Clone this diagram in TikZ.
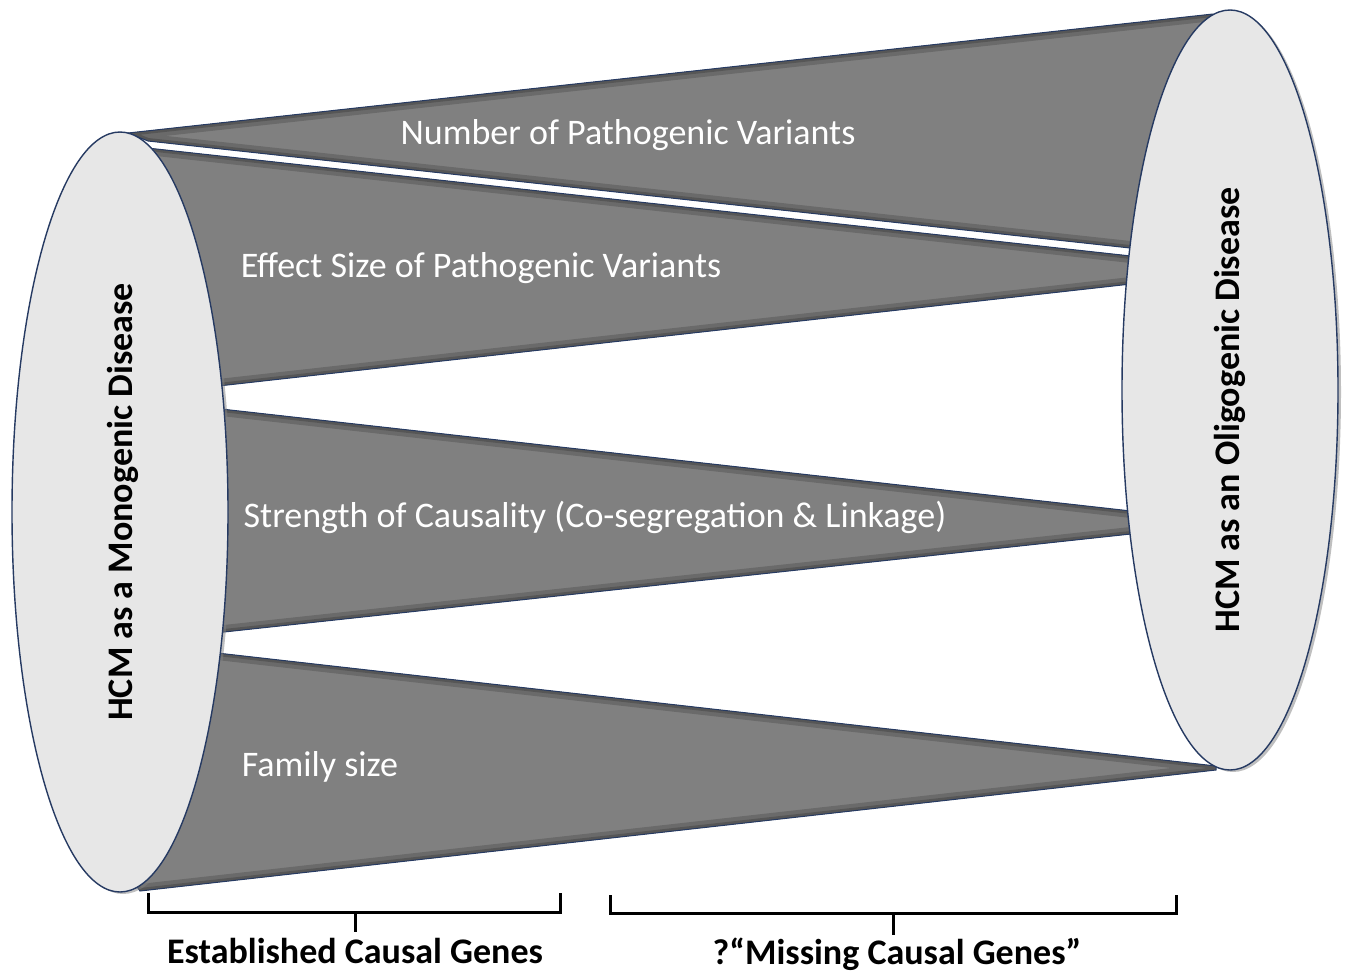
\documentclass[tikz,border=0pt]{standalone}
\usepackage{fontspec}
\setmainfont{Carlito}
\usetikzlibrary{shapes.geometric,shadows}
\definecolor{wedgegray}{RGB}{128,128,128}
\definecolor{wedgedark}{RGB}{92,92,92}
\definecolor{edgeblue}{RGB}{38,58,98}
\definecolor{ovalfill}{RGB}{231,231,231}
\newcommand\drawwedge[1]{%
  \begin{scope}
    \clip #1;
    \fill[wedgegray] #1;
    \draw[wedgedark, line width=7pt, opacity=0.6] #1;
    \draw[wedgedark!80!black, line width=3pt, opacity=0.6] #1;
  \end{scope}
  \draw[wedgeline] #1;}
\begin{document}
\begin{tikzpicture}[x=0.5pt,y=-0.5pt,
  wedgeline/.style={draw=edgeblue,line width=0.5pt},
  oval/.style={ellipse, fill=ovalfill, draw=edgeblue, line width=0.7pt,
    minimum width=108pt, minimum height=380pt, inner sep=0pt,
    drop shadow={shadow xshift=1.5pt,shadow yshift=-1pt,opacity=0.5}},
  wlabel/.style={text=white, font=\fontsize{18}{20}\selectfont, inner sep=0pt},
  olabel/.style={font=\bfseries\fontsize{18}{20}\selectfont, rotate=90, inner sep=0pt},
  blabel/.style={font=\bfseries\fontsize{18}{20}\selectfont, inner sep=0pt},
  bracket/.style={draw=black, line width=1.5pt},
  bshadow/.style={draw=black!25, line width=1.5pt}
]
\useasboundingbox (0,0) rectangle (1350,975);
\fill[white] (0,0) rectangle (1350,975);

% wedges
\drawwedge{(128,133) -- (1213,14) -- (1240,40) -- (1240,258) -- (1130,248) -- (148,141) -- cycle}
\drawwedge{(120,145) -- (1140,257) -- (1140,283) -- (120,397) -- cycle}
\drawwedge{(150,401) -- (1140,512) -- (1140,533) -- (150,640) -- cycle}
\drawwedge{(120,642) -- (1216,766) -- (1216,770) -- (140,891) -- (125,870) -- cycle}

% ovals
\node[oval] (L) at (120,512) {};
\node[oval] (R) at (1230,390) {};
\node[olabel] (Lt) at (123,502) {HCM as a Monogenic Disease};
\node[olabel] (Rt) at (1230,410) {HCM as an Oligogenic Disease};

% wedge labels
\node[wlabel] (t1) at (628,135) {Number of Pathogenic Variants};
\node[wlabel] (t2) at (481,268) {Effect Size of Pathogenic Variants};
\node[wlabel] (t3) at (595,517) {Strength of Causality (Co-segregation \& Linkage)};
\node[wlabel] (t4) at (320,767) {Family size};

% brackets
\coordinate (a1) at (148,893); \coordinate (a2) at (148,912);
\coordinate (a3) at (560,912); \coordinate (a4) at (560,893);
\coordinate (am) at (355,912); \coordinate (at) at (355,932);
\coordinate (c1) at (610,895); \coordinate (c2) at (610,913);
\coordinate (c3) at (1176,913); \coordinate (c4) at (1176,895);
\coordinate (cm) at (893,913); \coordinate (ct) at (893,935);
\begin{scope}[shift={(2,4)}]
\draw[bshadow] (a1) -- (a2) -- (a3) -- (a4);
\draw[bshadow] (c1) -- (c2) -- (c3) -- (c4);
\end{scope}
\draw[bracket] (a1) -- (a2) -- (a3) -- (a4);
\draw[bracket] (am) -- (at);
\draw[bracket] (c1) -- (c2) -- (c3) -- (c4);
\draw[bracket] (cm) -- (ct);

\node[blabel] (b1) at (355,951) {Established Causal Genes};
\node[blabel] (b2) at (897,954) {?“Missing Causal Genes”};
\end{tikzpicture}
\end{document}
